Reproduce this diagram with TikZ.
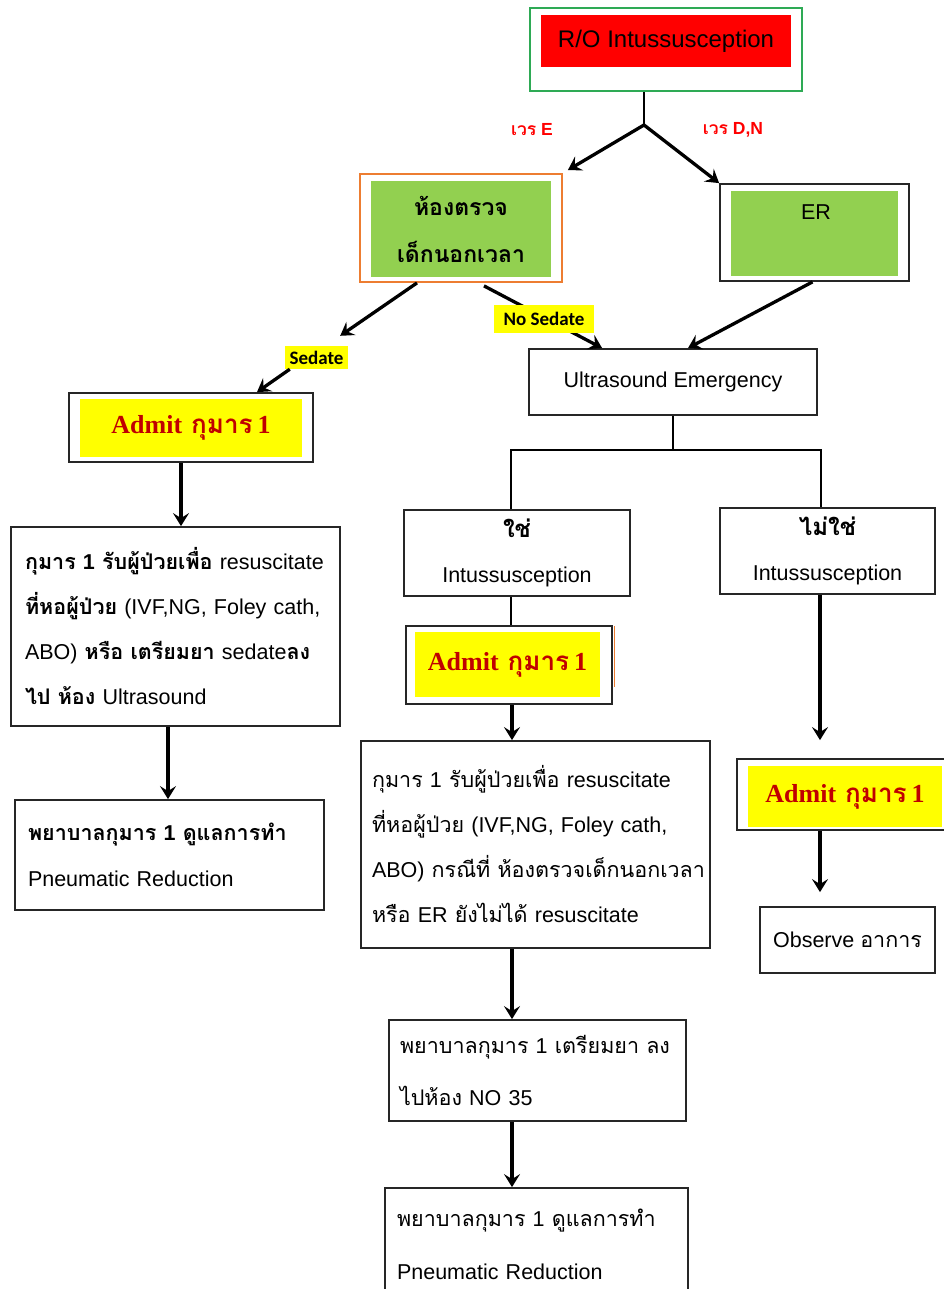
\documentclass[tikz,border=0pt]{standalone}
\usepackage{fontspec}
\setmainfont{Liberation Sans}
\newfontfamily\thai[Script=Thai]{Loma}
\newfontfamily\tserif{Liberation Serif}
\newfontfamily\carl{Carlito}
\usetikzlibrary{arrows.meta,calc}
\definecolor{gborder}{HTML}{2EAA55}
\definecolor{ggreen}{HTML}{92D050}
\definecolor{oorange}{HTML}{ED7D31}
\definecolor{yyellow}{HTML}{FFFF00}
\definecolor{admred}{HTML}{C00000}
\newcommand\tf[1]{{\thai #1}}
\newcommand\fsz{\fontsize{21.5}{45}\selectfont}
\newcommand\admittext{{\tserif Admit}\hspace{9pt}\tf{กุมาร}\hspace{5pt}{\tserif 1}}
\tikzset{
  box/.style={draw=black!85, line width=1.8pt, inner sep=0pt},
  infill/.style={inner sep=0pt},
  admfill/.style={fill=yyellow, inner sep=0pt, text=admred, font=\bfseries\fontsize{26}{30}\selectfont},
  txtbox/.style={box, align=left, inner ysep=0pt, font=\fsz},
  arr/.style={-{Stealth[length=13pt,width=16pt,inset=5pt]}, line width=3.3pt},
  ln/.style={line width=1.8pt},
  hl/.style={fill=yyellow, inner sep=0pt, font=\carl\bfseries\fontsize{19}{22}\selectfont},
  shiftlab/.style={text=red, font=\bfseries\fontsize{17.5}{20}\selectfont}
}
\begin{document}
\begin{tikzpicture}[x=1pt,y=-1pt]
\clip (0,0) rectangle (944,1289);
\fill[white] (0,0) rectangle (944,1289);

% top
\node[box, draw=gborder, minimum width=272pt, minimum height=83pt] (top) at (666,49.5) {};
\node[infill, fill=red, minimum width=250pt, minimum height=52pt, font=\fontsize{24}{28}\selectfont] (topin) at (666,41) {R/O Intussusception};
\coordinate (split) at (644,125);

% orange box
\node[box, draw=oorange, minimum width=202pt, minimum height=108pt] (orange) at (461,228) {};
\node[infill, fill=ggreen, minimum width=180pt, minimum height=96pt, align=center, font=\bfseries\fontsize{23}{47}\selectfont] (orangein) at (461,229) {\tf{ห้องตรวจ}\\\tf{เด็กนอกเวลา}};

% ER box
\node[box, minimum width=189pt, minimum height=97pt] (er) at (814.5,232.5) {};
\node[infill, fill=ggreen, minimum width=167pt, minimum height=85pt] (erin) at (814.5,233.5) {};
\node[font=\fsz, inner sep=0pt] (erlab) at (816,212) {ER};

\draw[ln] ([xshift=-22pt]top.south) -- (split);
\draw[arr] (split) -- ([xshift=5pt,yshift=3pt]orange.north east);
\draw[arr] (split) -- (er.north west);
\node[shiftlab] (shiftE) at (532,130) {\tf{เวร} E};
\node[shiftlab] (shiftDN) at (733,130) {\tf{เวร} D,N};

% ultrasound
\node[box, minimum width=288pt, minimum height=66pt, font=\fsz] (us) at (673,382) {Ultrasound Emergency};

% sedate branch
\node[hl, minimum width=63pt, minimum height=23pt] (sed) at (316.5,357.5) {Sedate};
\node[box, minimum width=244pt, minimum height=69pt] (admitL) at (191,427.5) {};
\node[admfill, minimum width=222pt, minimum height=58pt] (admitLin) at (191,428) {\admittext};
\draw[arr] ([xshift=-44pt]orange.south) -- ([xshift=-8pt,yshift=10pt]sed.north east);
\draw[arr] ([xshift=5pt]sed.south west) -- ([xshift=66pt]admitL.north);

% no sedate branch
\draw[arr] ([xshift=23pt,yshift=-3pt]orange.south) -- ([xshift=74pt]us.north west);
\node[hl, minimum width=100pt, minimum height=28pt] (nosed) at (544,319) {No Sedate};
\draw[arr] ([xshift=-2pt]er.south) -- ([xshift=15pt]us.north);

% yes / no
\node[box, minimum width=226pt, minimum height=86pt, align=center, font=\fsz] (yes) at (517,553) {{\bfseries\fontsize{24}{45}\selectfont\tf{ใช่}}\\Intussusception};
\node[box, minimum width=215pt, minimum height=86pt, align=center, font=\fsz] (no) at (827.5,551) {{\bfseries\fontsize{24}{45}\selectfont\tf{ไม่ใช่}}\\Intussusception};
\coordinate (fork) at (673,450);
\draw[ln] (us.south) -- (fork);
\draw[ln] ([xshift=-6pt]yes.north) |- (fork) -| ([xshift=-6.5pt]no.north);

% middle column
\node[box, minimum width=206pt, minimum height=78pt] (admitM) at (509,665) {};
\node[admfill, minimum width=185pt, minimum height=65pt] (admitMin) at (507.5,664.5) {\admittext};
\draw[oorange, line width=1pt] ([xshift=1.5pt,yshift=-1pt]admitM.north east) -- ([xshift=1.5pt,yshift=-62pt]admitM.north east);
\draw[ln] ([xshift=-6pt]yes.south) -- ([xshift=2pt]admitM.north);

\node[txtbox, text width=327pt, inner xsep=11pt, minimum height=207pt] (mid) at (535.5,844.5) {%
\mbox{\tf{กุมาร} 1 \tf{รับผู้ป่วยเพื่อ} resuscitate}\\
\mbox{\tf{ที่หอผู้ป่วย} (IVF,NG, Foley cath,}\\
\mbox{ABO) \tf{กรณีที่ ห้องตรวจเด็กนอกเวลา}}\\
\mbox{\tf{หรือ} ER \tf{ยังไม่ได้} resuscitate}};
\draw[arr] ([xshift=3pt]admitM.south) -- ([xshift=-23.5pt]mid.north);

\node[txtbox, text width=275pt, inner xsep=11pt, minimum height=101pt, font=\fontsize{21.5}{52}\selectfont] (nurseM) at (537.5,1070.5) {%
\mbox{\tf{พยาบาลกุมาร} 1 \tf{เตรียมยา ลง}}\\
\mbox{\tf{ไปห้อง} NO 35}};
\draw[arr] ([xshift=-23.5pt]mid.south) -- ([xshift=-25.5pt]nurseM.north);

\node[txtbox, text width=279pt, inner xsep=12pt, minimum height=112pt, font=\fontsize{21.5}{53}\selectfont] (pneuM) at (536.5,1244) {%
\mbox{\tf{พยาบาลกุมาร} 1 \tf{ดูแลการทำ}}\\
\mbox{Pneumatic Reduction}};
\draw[arr] ([xshift=-25.5pt]nurseM.south) -- ([xshift=-24.5pt]pneuM.north);

% right column
\node[box, minimum width=213pt, minimum height=71pt] (admitR) at (843.5,794.5) {};
\node[admfill, minimum width=194pt, minimum height=61pt] (admitRin) at (845,796.5) {\admittext};
\draw[arr] ([xshift=-7.5pt]no.south) -- ([xshift=-23.5pt,yshift=18pt]admitR.north);
\node[box, minimum width=175pt, minimum height=66pt, font=\fsz] (obs) at (847.5,940) {Observe \tf{อาการ}};
\draw[arr] ([xshift=-23.5pt]admitR.south) -- ([xshift=-27.5pt,yshift=14pt]obs.north);

% left column
\node[txtbox, text width=301pt, inner xsep=14pt, minimum height=199pt] (leftbox) at (175.5,626.5) {%
\mbox{{\bfseries\tf{กุมาร} 1 \tf{รับผู้ป่วยเพื่อ}} resuscitate}\\
\mbox{{\bfseries\tf{ที่หอผู้ป่วย}} (IVF,NG, Foley cath,}\\
\mbox{ABO) {\bfseries\tf{หรือ เตรียมยา}} sedate{\bfseries\tf{ลง}}}\\
\mbox{{\bfseries\tf{ไป ห้อง}} Ultrasound}};
\draw[arr] ([xshift=-10pt]admitL.south) -- ([xshift=5.5pt]leftbox.north);

\node[txtbox, text width=283pt, inner xsep=13pt, minimum height=110pt, font=\fontsize{21.5}{46}\selectfont] (pneuL) at (169.5,855) {%
\mbox{{\bfseries\tf{พยาบาลกุมาร} 1 \tf{ดูแลการทำ}}}\\
\mbox{Pneumatic Reduction}};
\draw[arr] ([xshift=-7.5pt]leftbox.south) -- ([xshift=-1.5pt]pneuL.north);
\end{tikzpicture}
\end{document}
